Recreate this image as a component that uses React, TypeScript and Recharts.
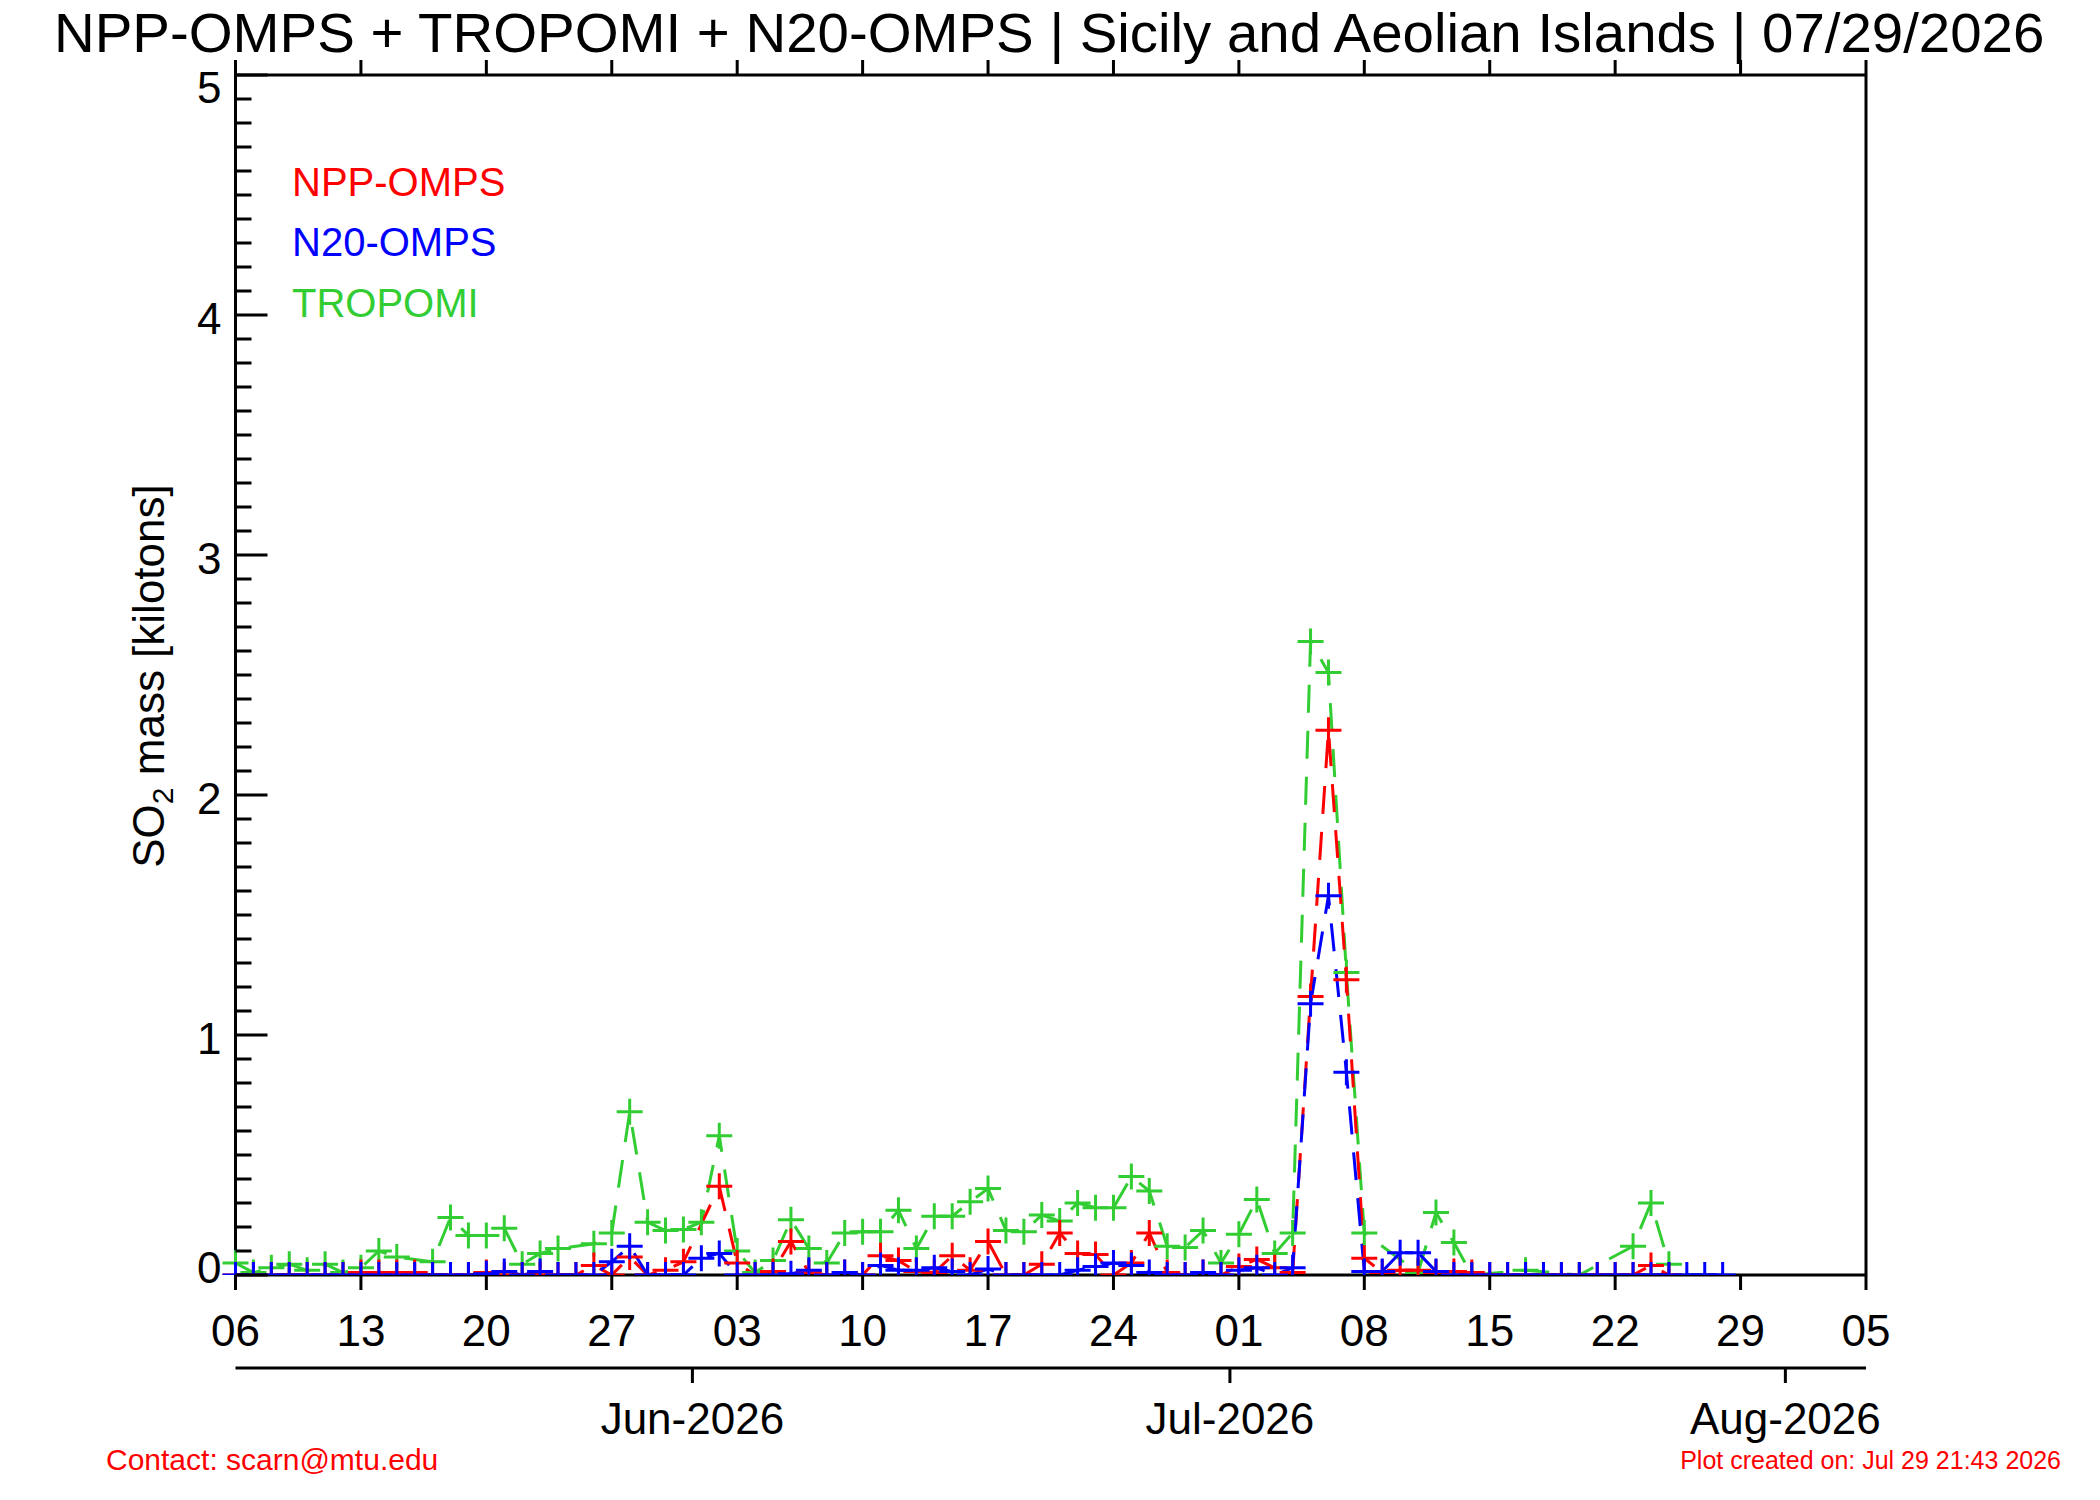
import { LineChart, Line, XAxis, YAxis } from 'recharts'

const FONT = '"Liberation Sans", Arial, Helvetica, sans-serif'

// day 0 = May 6 2026
const WEEK_TICKS = [0, 7, 14, 21, 28, 35, 42, 49, 56, 63, 70, 77, 84, 91]
const DAY_LABELS = ['06', '13', '20', '27', '03', '10', '17', '24', '01', '08', '15', '22', '29', '05']
const MONTH_TICKS = [25.5, 55.5, 86.5]
const MONTH_LABELS = ['Jun-2026', 'Jul-2026', 'Aug-2026']
const Y_TICKS = Array.from({ length: 51 }, (_, i) => i / 10)

const tropomi = [
  0.05, 0.01, 0.03, 0.045, 0.02, 0.045, 0.01, 0.03, 0.10, 0.075,
  null, 0.055, 0.24, 0.165, 0.165, 0.195, 0.045, 0.09, 0.11, null,
  0.13, 0.175, 0.68, 0.22, 0.185, 0.19, 0.22, 0.58, 0.10, 0.01,
  0.06, 0.23, 0.11, 0.05, 0.175, 0.18, 0.18, 0.27, 0.11, 0.245,
  0.245, 0.305, 0.36, 0.185, 0.18, 0.25, 0.225, 0.30, 0.28, 0.28,
  0.41, 0.35, 0.12, 0.115, 0.185, 0.05, 0.17, 0.315, 0.09, 0.175,
  2.64, 2.51, 1.26, 0.175, null, null, 0.01, 0.26, 0.135, 0.0,
  null, null, 0.02, null, null, 0.0, null, null, 0.12, 0.30,
  0.045,
]

const npp = [
  0.0, 0.0, 0.0, 0.0, 0.0, 0.0, 0.0, 0.01, 0.01, 0.01,
  0.01, 0.0, 0.0, 0.0, 0.01, 0.0, 0.0, 0.0, 0.0, 0.0,
  0.04, 0.0, 0.075, 0.0, 0.02, 0.055, null, 0.37, 0.05, 0.0,
  0.015, 0.14, 0.01, 0.0, 0.01, 0.0, 0.08, 0.06, 0.015, 0.01,
  0.08, 0.02, 0.14, 0.0, 0.0, 0.045, 0.175, 0.09, 0.085, 0.0,
  0.05, 0.175, 0.01, 0.0, 0.01, 0.0, 0.035, 0.065, 0.03, 0.01,
  1.16, 2.27, 1.23, 0.07, 0.01, 0.02, 0.02, 0.01, 0.015, 0.01,
  0.0, 0.0, 0.0, 0.0, 0.0, 0.0, 0.0, 0.0, 0.0, 0.04,
  0.0,
]

const n20 = [
  0.0, 0.0, 0.0, 0.0, 0.0, 0.0, 0.0, 0.0, 0.0, 0.0,
  0.0, 0.0, 0.0, 0.0, 0.005, 0.015, 0.0, 0.015, 0.0, 0.0,
  0.0, 0.055, 0.12, 0.0, 0.0, 0.0, 0.07, 0.09, 0.0, 0.0,
  0.0, 0.005, 0.02, 0.0, 0.01, 0.0, 0.04, 0.02, 0.02, 0.03,
  0.015, 0.0, 0.025, 0.0, 0.0, 0.0, 0.0, 0.02, 0.035, 0.05,
  0.04, 0.01, 0.0, 0.0, 0.01, 0.0, 0.02, 0.03, 0.0, 0.03,
  1.13, 1.58, 0.845, 0.015, 0.015, 0.093, 0.093, 0.015, 0.0, 0.0,
  0.0, 0.0, 0.0, 0.0, 0.0, 0.0, 0.0, 0.0, 0.0, 0.0,
  0.0, 0.0, 0.0, 0.0,
]

const rows = n20.map((v, d) => ({
  day: d,
  npp: npp[d] ?? null,
  n20: v,
  tropomi: tropomi[d] ?? null,
}))

const Plus = (props: any) => {
  const { cx, cy, stroke, index, value } = props
  if (cx == null || cy == null || value == null) return <g key={`p${index}`} />
  return (
    <path key={`p${index}`} d={`M${cx - 13},${cy}H${cx + 13}M${cx},${cy - 13}V${cy + 13}`}
      stroke={stroke} strokeWidth={3} fill="none" strokeDasharray="none" />
  )
}

const isMajor = (v: number) => Math.abs(v - Math.round(v)) < 1e-6

const LeftTick = ({ x, y, payload }: any) => {
  const v = payload.value
  const major = isMajor(v)
  const dy = Math.round(v) === 5 && major ? 12 : Math.round(v) === 0 && major ? -8 : 3
  return (
    <g>
      <line x1={x} y1={y} x2={x + (major ? 32 : 16)} y2={y} stroke="#000" strokeWidth={3} />
      {major && (
        <text x={x - 14} y={y + dy} dy="0.36em" textAnchor="end" fontSize={44} fontFamily={FONT} fill="#000">
          {Math.round(v)}
        </text>
      )}
    </g>
  )
}

const RightTick = ({ x, y, payload }: any) => {
  const major = isMajor(payload.value)
  return <line x1={x} y1={y} x2={x - (major ? 32 : 16)} y2={y} stroke="#000" strokeWidth={3} />
}

const DayTick = ({ x, y, payload }: any) => {
  const i = WEEK_TICKS.indexOf(payload.value)
  return (
    <g>
      <line x1={x} y1={y} x2={x} y2={y + 15} stroke="#000" strokeWidth={3} />
      <text x={x} y={y + 71} textAnchor="middle" fontSize={44} fontFamily={FONT} fill="#000">{DAY_LABELS[i]}</text>
    </g>
  )
}

const TopTick = ({ x, y }: any) => <line x1={x} y1={y} x2={x} y2={y - 15} stroke="#000" strokeWidth={3} />

const MonthTick = ({ x, y, payload }: any) => {
  const i = MONTH_TICKS.indexOf(payload.value)
  return (
    <g>
      <line x1={x} y1={y} x2={x} y2={y + 15} stroke="#000" strokeWidth={3} />
      <text x={x} y={y + 66} textAnchor="middle" fontSize={44} fontFamily={FONT} fill="#000">{MONTH_LABELS[i]}</text>
    </g>
  )
}

const AXIS = { stroke: '#000', strokeWidth: 3 }

export default function App() {
  return (
    <div style={{ position: 'relative', width: 2100, height: 1500, background: '#fff' }}>
      <style>{`body{margin:0}`}</style>
      <LineChart width={2100} height={1500} data={rows}
        margin={{ top: 60, right: 134, bottom: 32, left: 135.5 }}>
        <XAxis dataKey="day" type="number" domain={[0, 91]} ticks={WEEK_TICKS} interval={0}
          height={93} tickSize={0} tickMargin={0} tickLine={false} axisLine={AXIS} tick={<DayTick />} />
        <XAxis xAxisId="month" dataKey="day" type="number" domain={[0, 91]} ticks={MONTH_TICKS} interval={0}
          height={100} tickSize={0} tickMargin={0} tickLine={false} axisLine={AXIS} tick={<MonthTick />} />
        <XAxis xAxisId="top" orientation="top" dataKey="day" type="number" domain={[0, 91]} ticks={WEEK_TICKS}
          interval={0} height={15} tickSize={0} tickMargin={0} tickLine={false} axisLine={AXIS} tick={<TopTick />} />
        <YAxis type="number" domain={[0, 5]} ticks={Y_TICKS} interval={0} allowDataOverflow
          width={100} tickSize={0} tickMargin={0} tickLine={false} axisLine={AXIS} tick={<LeftTick />} />
        <YAxis yAxisId="right" orientation="right" type="number" domain={[0, 5]} ticks={Y_TICKS} interval={0}
          width={100} tickSize={0} tickMargin={0} tickLine={false} axisLine={AXIS} tick={<RightTick />} />
        <Line dataKey="tropomi" type="linear" stroke="#32cd32" strokeWidth={3} strokeDasharray="28 18"
          connectNulls dot={Plus} activeDot={false} isAnimationActive={false} />
        <Line dataKey="npp" type="linear" stroke="#ff0000" strokeWidth={3} strokeDasharray="28 18"
          connectNulls dot={Plus} activeDot={false} isAnimationActive={false} />
        <Line dataKey="n20" type="linear" stroke="#0000ff" strokeWidth={3} strokeDasharray="28 18"
          connectNulls dot={Plus} activeDot={false} isAnimationActive={false} />
      </LineChart>
      <svg width={2100} height={1500} style={{ position: 'absolute', left: 0, top: 0, pointerEvents: 'none' }}
        fontFamily={FONT}>
        <text x={54} y={52} fontSize={56.4} fill="#000">
          NPP-OMPS + TROPOMI + N20-OMPS | Sicily and Aeolian Islands | 07/29/2026
        </text>
        <text x={292} y={196} fontSize={40} fill="#ff0000">NPP-OMPS</text>
        <text x={292} y={256} fontSize={40} fill="#0000ff">N20-OMPS</text>
        <text x={292} y={317} fontSize={40} fill="#32cd32">TROPOMI</text>
        <text transform="translate(164,676) rotate(-90)" textAnchor="middle" fontSize={44} fill="#000">
          SO<tspan dy={9} fontSize={30}>2</tspan><tspan dy={-9}> mass [kilotons]</tspan>
        </text>
        <text x={106} y={1470} fontSize={30} fill="#ff0000">Contact: scarn@mtu.edu</text>
        <text x={2061} y={1469} fontSize={25} textAnchor="end" fill="#ff0000">Plot created on: Jul 29 21:43 2026</text>
      </svg>
    </div>
  )
}
